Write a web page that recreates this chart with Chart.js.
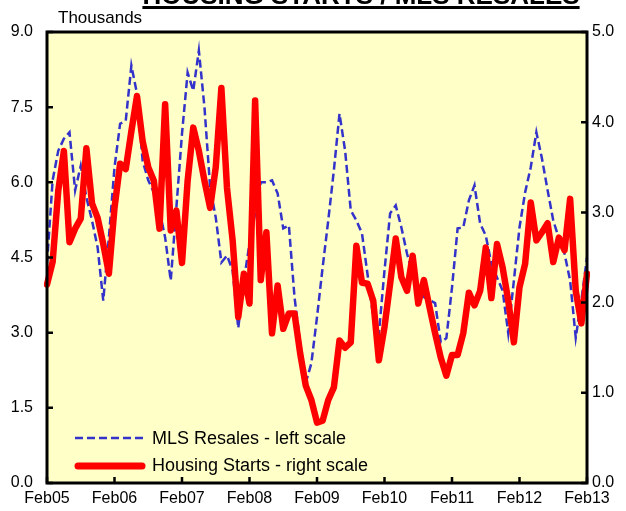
<!DOCTYPE html>
<html>
<head>
<meta charset="utf-8">
<script src="https://cdn.jsdelivr.net/npm/chart.js@4.4.1/dist/chart.umd.min.js"></script>
<style>
  body { margin: 0; background: #fff; }
  canvas { display: block; }
</style>
</head>
<body>
<canvas id="chart" width="626" height="511"></canvas>
<script>
// month labels Feb05 .. Feb13
const monthNames = ['Jan', 'Feb', 'Mar', 'Apr', 'May', 'Jun', 'Jul', 'Aug', 'Sep', 'Oct', 'Nov', 'Dec'];
const categories = [];
for (let k = 0; k < 97; k++) {
  const m = (1 + k) % 12;
  const yr = 5 + Math.floor((1 + k) / 12);
  categories.push(monthNames[m] + String(yr).padStart(2, '0'));
}
const tickLabels = ['Feb05', 'Feb06', 'Feb07', 'Feb08', 'Feb09', 'Feb10', 'Feb11', 'Feb12', 'Feb13'];

// MLS resales, thousands (left scale)
const mlsResales = [
  4.38, 6.04, 6.63, 6.87, 7.0, 5.84, 6.33, 5.70, 5.24, 4.7, 3.64, 4.9,
  6.3, 7.17, 7.23, 8.33, 7.77, 6.43, 6.04, 5.8, 5.44, 4.9, 4.04, 5.5,
  6.97, 8.19, 7.83, 8.63, 7.49, 5.9, 5.3, 4.4, 4.54, 4.24, 3.09, 4.04,
  4.78, 5.38, 6.0, 6.0, 6.04, 5.78, 5.08, 5.14, 3.71, 2.79, 2.0, 2.39,
  3.31, 4.3, 5.24, 6.24, 7.37, 6.63, 5.44, 5.24, 4.98, 4.15, 3.31, 2.99,
  4.24, 5.38, 5.54, 5.1, 4.58, 4.18, 3.9, 3.71, 3.65, 3.59, 2.81, 2.89,
  3.9, 5.08, 5.1, 5.64, 5.94, 5.18, 4.94, 4.38, 4.1, 3.84, 2.99, 4.04,
  5.1, 5.8, 6.3, 7.0, 6.47, 5.84, 5.24, 4.88, 4.58, 4.04, 2.9, 3.65,
  4.5
];

// Housing starts, thousands (right scale)
const housingStarts = [
  2.2, 2.45, 3.24, 3.68, 2.67, 2.82, 2.93, 3.71, 3.1, 2.94, 2.65, 2.32,
  3.05, 3.54, 3.48, 3.9, 4.29, 3.79, 3.5, 3.35, 2.82, 4.2, 2.8, 3.02,
  2.44, 3.35, 3.94, 3.68, 3.35, 3.05, 3.5, 4.38, 3.27, 2.69, 1.84, 2.32,
  1.99, 4.24, 2.25, 2.78, 1.66, 2.19, 1.71, 1.88, 1.88, 1.44, 1.08, 0.92,
  0.67, 0.69, 0.92, 1.06, 1.58, 1.5, 1.56, 2.63, 2.22, 2.21, 2.02, 1.36,
  1.73, 2.21, 2.71, 2.28, 2.13, 2.52, 1.99, 2.25, 1.95, 1.66, 1.39, 1.19,
  1.42, 1.42, 1.66, 2.11, 1.97, 2.13, 2.61, 2.05, 2.65, 2.39, 2.02, 1.56,
  2.17, 2.43, 3.11, 2.69, 2.78, 2.88, 2.45, 2.72, 2.58, 3.15, 2.13, 1.77,
  2.32
];

const FONT = '"Liberation Sans", Arial, sans-serif';
const BLUE = '#3333cc';
const RED = '#ff0000';

const decorations = {
  id: 'decorations',
  beforeDraw(chart) {
    const { ctx, chartArea: a } = chart;
    ctx.save();
    ctx.fillStyle = '#ffffff';
    ctx.fillRect(0, 0, chart.width, chart.height);
    ctx.fillStyle = '#ffffc8';
    ctx.fillRect(a.left, a.top, a.right - a.left, a.bottom - a.top);
    ctx.restore();
  },
  afterDatasetsDraw(chart) {
    const { ctx, chartArea: a, scales } = chart;
    ctx.save();
    ctx.strokeStyle = '#000';
    ctx.lineWidth = 2.5;
    ctx.beginPath();
    scales.yL.ticks.forEach(t => {
      const y = scales.yL.getPixelForValue(t.value);
      ctx.moveTo(a.left, y); ctx.lineTo(a.left + 6, y);
    });
    scales.yR.ticks.forEach(t => {
      const y = scales.yR.getPixelForValue(t.value);
      ctx.moveTo(a.right - 6, y); ctx.lineTo(a.right, y);
    });
    categories.forEach((c, i) => {
      if (tickLabels.includes(c)) {
        const x = scales.x.getPixelForValue(i);
        ctx.moveTo(x, a.bottom); ctx.lineTo(x, a.bottom - 6);
      }
    });
    ctx.stroke();
    ctx.lineWidth = 3;
    ctx.strokeRect(a.left, a.top, a.right - a.left, a.bottom - a.top);

    // legend inside plot
    ctx.font = '18px ' + FONT;
    ctx.textBaseline = 'middle';
    ctx.fillStyle = '#000';
    ctx.lineCap = 'butt';
    ctx.strokeStyle = BLUE;
    ctx.lineWidth = 2.5;
    ctx.setLineDash([8, 4]);
    ctx.beginPath(); ctx.moveTo(75, 438); ctx.lineTo(145, 438); ctx.stroke();
    ctx.setLineDash([]);
    ctx.fillText('MLS Resales - left scale', 152, 439);
    ctx.strokeStyle = RED;
    ctx.lineWidth = 7;
    ctx.lineCap = 'round';
    ctx.beginPath(); ctx.moveTo(78, 466); ctx.lineTo(142, 466); ctx.stroke();
    ctx.fillText('Housing Starts - right scale', 152, 466);
    ctx.restore();
  },
  afterDraw(chart) {
    const { ctx } = chart;
    ctx.save();
    ctx.fillStyle = '#000';
    ctx.font = 'bold 26px ' + FONT;
    ctx.textAlign = 'center';
    ctx.textBaseline = 'alphabetic';
    const title = 'HOUSING STARTS / MLS RESALES';
    const w = ctx.measureText(title).width;
    ctx.fillText(title, 361, 4);
    ctx.fillRect(361 - w / 2, 6, w, 3);
    ctx.font = '17px ' + FONT;
    ctx.textAlign = 'left';
    ctx.textBaseline = 'middle';
    ctx.fillText('Thousands', 58, 18);
    ctx.restore();
  }
};

new Chart(document.getElementById('chart'), {
  type: 'line',
  data: {
    labels: categories,
    datasets: [
      {
        label: 'MLS Resales - left scale',
        data: mlsResales,
        yAxisID: 'yL',
        borderColor: BLUE,
        borderWidth: 2.5,
        borderDash: [8, 4],
        pointRadius: 0,
        tension: 0,
        order: 1
      },
      {
        label: 'Housing Starts - right scale',
        data: housingStarts,
        yAxisID: 'yR',
        borderColor: RED,
        borderWidth: 6.5,
        borderJoinStyle: 'round',
        borderCapStyle: 'round',
        pointRadius: 0,
        tension: 0,
        order: 0
      }
    ]
  },
  options: {
    responsive: false,
    animation: false,
    layout: { padding: { top: 32, left: 0, right: 0, bottom: 0 } },
    plugins: {
      legend: { display: false },
      tooltip: { enabled: false },
      title: { display: false }
    },
    scales: {
      x: {
        type: 'category',
        offset: false,
        grid: { display: false, drawTicks: false },
        border: { display: false },
        ticks: {
          autoSkip: false,
          maxRotation: 0,
          minRotation: 0,
          padding: 6,
          color: '#000',
          font: { family: FONT, size: 16 },
          callback: (v, i) => tickLabels.includes(categories[i]) ? categories[i] : ''
        },
        afterFit: s => { s.height = 28; }
      },
      yL: {
        position: 'left',
        min: 0,
        max: 9,
        grid: { display: false, drawTicks: false },
        border: { display: false },
        ticks: {
          stepSize: 1.5,
          padding: 14,
          color: '#000',
          font: { family: FONT, size: 16 },
          callback: v => v.toFixed(1)
        },
        afterFit: s => { s.width = 47; }
      },
      yR: {
        position: 'right',
        min: 0,
        max: 5,
        grid: { display: false, drawTicks: false },
        border: { display: false },
        ticks: {
          stepSize: 1,
          padding: 5,
          color: '#000',
          font: { family: FONT, size: 16 },
          callback: v => v.toFixed(1)
        },
        afterFit: s => { s.width = 39; }
      }
    }
  },
  plugins: [decorations]
});
</script>
</body>
</html>
